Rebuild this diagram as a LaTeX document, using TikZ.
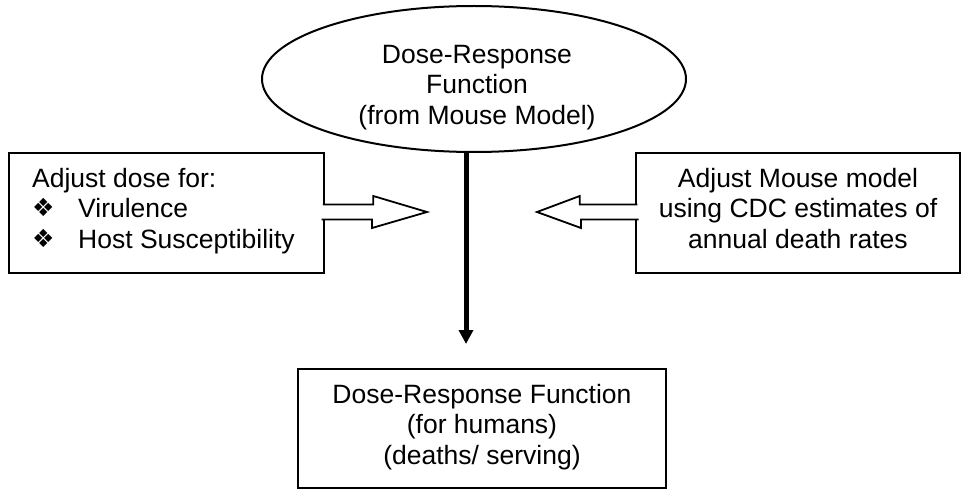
\documentclass[tikz,border=0pt]{standalone}
\usepackage{fontspec}
\setmainfont{Liberation Sans}
\newfontfamily\symfont{DejaVu Sans}
\usetikzlibrary{arrows.meta,shapes.geometric,calc}
\newcommand\dingbul{{\symfont\fontsize{25}{25}\selectfont ❖}}
\begin{document}
\begin{tikzpicture}[x=1pt,y=-1pt,
  txt/.style={inner sep=0pt,font=\fontsize{26.5}{30.5}\selectfont},
  frame/.style={draw,line width=2.5pt,inner sep=0pt},
  blockarrow/.style={draw,line width=1.8pt,fill=white,line join=miter},
  bigarrow/.style={line width=5pt,-{Triangle[width=14pt,length=14pt]}}]
\useasboundingbox (0,0) rectangle (961,489);
% ellipse
\node[draw,ellipse,line width=2pt,minimum width=424,minimum height=146,inner sep=0pt] (ell) at (474,79) {};
\node[txt,anchor=north,align=center] (etext) at (477,45) {Dose-Response\\Function\\(from Mouse Model)};
% left box
\node[frame,minimum width=315,minimum height=120] (lbox) at (166.5,213) {};
\node[txt,anchor=north west,align=left] (ltext) at (32,168) {Adjust dose for:\\\makebox[46pt][l]{\raisebox{1pt}{\dingbul}}Virulence\\\makebox[46pt][l]{\raisebox{1pt}{\dingbul}}Host Susceptibility};
% right box
\node[frame,minimum width=324,minimum height=120] (rbox) at (798,213) {};
\node[txt,anchor=north,align=center] (rtext) at (798,168) {Adjust Mouse model\\using CDC estimates of\\annual death rates};
% bottom box
\node[frame,minimum width=368,minimum height=119] (bbox) at (482,428.5) {};
\node[txt,anchor=north,align=center] (btext) at (482,384) {Dose-Response Function\\(for humans)\\(deaths/ serving)};
% block arrows
\coordinate (ltip) at (427,212);
\coordinate (rtip) at (537,212);
\draw[blockarrow] ($(lbox.east |- ltip)+(-2.5,-7.5)$) -- ++(50.5,0) -- ++(0,-8.5) -- (ltip) -- ++(-55,16) -- ++(0,-8.5) -- ++(-50.5,0);
\draw[blockarrow] ($(rbox.west |- rtip)+(2.5,-7.5)$) -- ++(-57.5,0) -- ++(0,-8.5) -- (rtip) -- ++(44,16) -- ++(0,-8.5) -- ++(57.5,0);
% main arrow
\coordinate (tip) at (466,344);
\draw[bigarrow] (ell.south -| tip) -- (tip);
\end{tikzpicture}
\end{document}
